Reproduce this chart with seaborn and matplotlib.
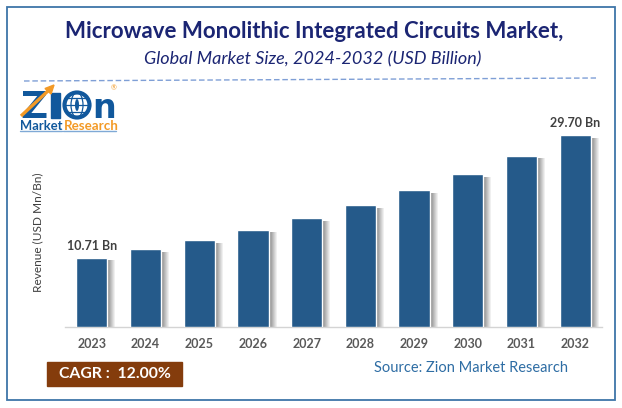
import numpy as np
import pandas as pd
import matplotlib
matplotlib.use("Agg")
import matplotlib.pyplot as plt
from matplotlib.patches import Rectangle, Circle, Polygon, Ellipse
import seaborn as sns

years = ["2023", "2024", "2025", "2026", "2027", "2028", "2029", "2030", "2031", "2032"]
revenue = [10.71, 12.0, 13.43, 15.04, 16.85, 18.87, 21.14, 23.68, 26.5, 29.7]
labelled = {"2023": "10.71 Bn", "2032": "29.70 Bn"}
title = "Microwave Monolithic Integrated Circuits Market,"
subtitle = "Global Market Size, 2024-2032 (USD Billion)"
ylabel = "Revenue (USD Mn/Bn)"
cagr = "CAGR :  12.00%"
source = "Source: Zion Market Research"

W, H = 622, 408
sns.set_theme(style="white")
plt.rcParams["font.family"] = ["Lato", "DejaVu Sans"]

fig = plt.figure(figsize=(W / 100, H / 100), dpi=100, facecolor="white")
def px(x0, y0, x1, y1):
    return [x0 / W, 1 - y1 / H, (x1 - x0) / W, (y1 - y0) / H]

ov = fig.add_axes([0, 0, 1, 1], zorder=0)
ov.set_xlim(0, W); ov.set_ylim(H, 0); ov.axis("off")

ov.add_patch(Rectangle((6.5, 6.5), 608.5, 393.5, fill=False, ec="#3E75A8", lw=1.3))

ov.text(314, 31.5, title, ha="center", va="center", fontsize=16.05, fontweight="bold", color="#1B2573")
ov.text(312.5, 59, subtitle, ha="center", va="center", fontsize=13, style="italic", color="#1B2573")
ov.plot([24, 596], [81, 78], color="#7F9FD6", lw=1, ls=(0, (4, 2)))

# logo
blue = "#11589C"; orange = "#F39A26"
ov.text(20, 117.5, "Z", fontsize=27, fontweight="bold", family="DejaVu Sans", color=blue, ha="left", va="baseline")
ov.plot([21, 49], [116, 90], color=orange, lw=2.4, solid_capstyle="butt", zorder=4)
ov.add_patch(Polygon([[54, 85], [45, 88.5], [51, 94]], color=orange, zorder=4))
ov.add_patch(Rectangle((51, 93), 9, 24.5, color=blue, zorder=3))
ov.add_patch(Circle((77, 105), 12.5, fc="white", ec=blue, lw=3))
ov.add_patch(Ellipse((77, 105), 12, 25, fc="none", ec=blue, lw=.9))
ov.add_patch(Ellipse((77, 105), 4, 12, fc=blue, ec="none"))
ov.plot([64, 90], [105, 105], color=blue, lw=.9)
ov.plot([66, 88], [98, 98], color=blue, lw=.9)
ov.plot([66, 88], [112, 112], color=blue, lw=.9)
ov.text(92, 117.5, "n", fontsize=24, fontweight="bold", family="DejaVu Sans", color=blue, ha="left", va="baseline")
ov.text(113.5, 87.5, "®", fontsize=5, color=orange, ha="center", va="center")
ov.text(20, 125.5, "Market", fontsize=9.4, fontweight="bold", color=blue, ha="left", va="center")
ov.text(64, 125.5, "Research", fontsize=9.6, fontweight="bold", color=orange, ha="left", va="center")
ov.plot([20, 62], [131, 131], color="#7FA9D6", lw=1)
ov.plot([63, 116], [131, 131], color="#7FA9D6", lw=1)

# CAGR + source
ov.add_patch(Rectangle((47, 362), 135, 24, color="#843C0C"))
ov.text(114.5, 374.5, cagr, ha="center", va="center", fontsize=11.3, fontweight="bold", color="white")
ov.text(471, 368, source, ha="center", va="center", fontsize=10.55, color="#2E6DA4")

# chart
ax = fig.add_axes(px(65, 90, 602, 326.7), zorder=1)
ax.patch.set_alpha(0)
df = pd.DataFrame({"year": years, "revenue": revenue})
sns.barplot(data=df, x="year", y="revenue", color="#255A8A", saturation=1, width=0.58, ax=ax, zorder=3)
ax.set_xlim(-0.5, len(years) - 0.5)
ax.set_ylim(0, 236.7 / 6.46)
for s in ["top", "left", "right"]:
    ax.spines[s].set_visible(False)
ax.spines["bottom"].set_color("#D4D4D4")
ax.spines["bottom"].set_linewidth(1)
ax.set_yticks([])
ax.set_xlabel("")
ax.set_ylabel(ylabel, fontsize=8.6, color="#404040", va="center")
ax.yaxis.set_label_coords((38 - 65) / 537, (327 - 232) / 237)
ax.tick_params(axis="x", length=0, pad=8)
for t in ax.get_xticklabels():
    t.set_fontsize(9); t.set_fontweight("bold"); t.set_color("#595959")

# soft shadow along the right of each bar
dx = 1 / 53.7
for bar in list(ax.patches):
    x1 = bar.get_x() + bar.get_width()
    h = bar.get_height()
    for i in range(8):
        ax.add_patch(Rectangle((x1 + i * dx, 0), dx, h - 0.45, fc="#555555", ec="none",
                               alpha=0.7 * (1 - i / 8), zorder=2))
    yr = years[int(round(bar.get_x() + bar.get_width() / 2))]
    if yr in labelled:
        ax.annotate(labelled[yr], (bar.get_x() + bar.get_width() / 2, h), xytext=(0, 4.3),
                    textcoords="offset points", ha="center", va="bottom",
                    fontsize=9, fontweight="bold", color="#404040")

fig.savefig("out.png", dpi=100, facecolor="white")
